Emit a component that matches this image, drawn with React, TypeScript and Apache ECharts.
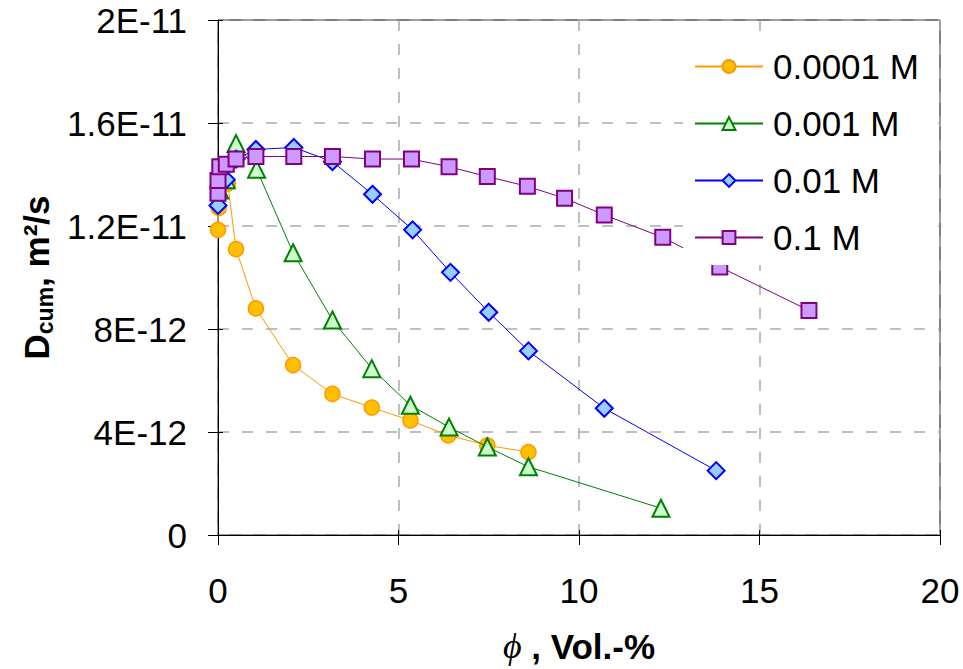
import React, { useEffect, useRef } from "react";
import * as echarts from "echarts";

// x: phi, Vol.-% ; y: D_cum in units of 1E-12 m²/s
const seriesNames = ["0.0001 M", "0.001 M", "0.01 M", "0.1 M"];

const x0001 = [0, 0.02, 0.27, 0.5, 1.05, 2.08, 3.17, 4.26, 5.33, 6.38, 7.46, 8.6];
const y0001 = [11.85, 12.7, 13.65, 11.1, 8.8, 6.6, 5.48, 4.95, 4.45, 3.87, 3.48, 3.22];

const x001 = [0.05, 0.23, 0.5, 1.07, 2.08, 3.17, 4.26, 5.33, 6.4, 7.46, 8.6, 12.27];
const y001 = [13.4, 13.8, 15.2, 14.2, 10.96, 8.35, 6.46, 5.04, 4.19, 3.42, 2.65, 1.04];

const x01 = [0, 0.23, 0.5, 1.05, 2.1, 3.17, 4.28, 5.39, 6.44, 7.5, 8.6, 10.7, 13.8];
const y01 = [12.8, 13.8, 14.6, 14.97, 15.05, 14.5, 13.23, 11.85, 10.2, 8.65, 7.15, 4.92, 2.5];

const x1 = [0, 0, 0.05, 0.23, 0.5, 1.05, 2.1, 3.17, 4.28, 5.36, 6.4, 7.46, 8.57, 9.6, 10.7, 12.32, 13.9, 16.37];
const y1 = [13.27, 13.77, 14.3, 14.4, 14.6, 14.7, 14.7, 14.7, 14.6, 14.6, 14.3, 13.92, 13.54, 13.08, 12.43, 11.56, 10.41, 8.72];

const xTicks = [0, 5, 10, 15, 20];
const yTickLabels = ["0", "4E-12", "8E-12", "1.2E-11", "1.6E-11", "2E-11"];

const FONT = "'Liberation Sans', Arial, sans-serif";

function pairs(xs: number[], ys: number[]) {
  return xs.map((x, i) => [x, ys[i]]);
}

export default function App() {
  const ref = useRef<HTMLDivElement>(null);
  useEffect(() => {
    if (!ref.current) return;
    const chart = echarts.init(ref.current, null, { renderer: "svg" });
    const styles = [
      { symbol: "circle", size: 15, line: "#FF9900", fill: "#FFC000", border: "#FF9900", bw: 1.5 },
      { symbol: "triangle", size: 17, line: "#008000", fill: "#CCFFCC", border: "#008000", bw: 2 },
      { symbol: "diamond", size: 17, line: "#0000FF", fill: "#99CCFF", border: "#0000FF", bw: 2 },
      { symbol: "rect", size: 15, line: "#800080", fill: "#CC99FF", border: "#800080", bw: 2 },
    ];
    const datas = [pairs(x0001, y0001), pairs(x001, y001), pairs(x01, y01), pairs(x1, y1)];
    const gridLine = { show: true, lineStyle: { color: "#ABABAB", type: [11, 13], width: 1.5 } };
    chart.setOption({
      animation: false,
      backgroundColor: "#ffffff",
      grid: {
        left: 218,
        top: 20,
        width: 722,
        height: 520,
        show: true,
        borderColor: "#000",
        borderWidth: 1,
        backgroundColor: "transparent",
      },
      legend: {
        orient: "vertical",
        left: 683,
        top: 36,
        padding: [13, 11, 10, 11],
        itemGap: 22,
        itemWidth: 68,
        itemHeight: 16,
        backgroundColor: "#ffffff",
        data: seriesNames,
        textStyle: {
          fontFamily: FONT,
          fontSize: 35,
          lineHeight: 35,
          color: "#000",
          padding: [0, 0, 0, 5],
        },
      },
      xAxis: [
        {
          type: "value",
          position: "bottom",
          min: 0,
          max: 20,
          interval: 5,
          axisLine: { onZero: false, lineStyle: { color: "#000", width: 1 } },
          axisTick: { show: true, length: 10, lineStyle: { color: "#000" } },
          axisLabel: {
            fontFamily: FONT,
            fontSize: 35,
            color: "#000",
            margin: 38,
            formatter: (v: number) => (xTicks.includes(v) ? String(v) : ""),
          },
          splitLine: gridLine,
          name: "{phi|ϕ}{t| , Vol.-%}",
          nameLocation: "middle",
          nameGap: 91,
          nameTextStyle: {
            rich: {
              phi: {
                fontFamily: "'Liberation Serif', 'DejaVu Serif', serif",
                fontStyle: "italic",
                fontSize: 36,
                lineHeight: 40,
                color: "#000",
              },
              t: {
                fontFamily: FONT,
                fontWeight: "bold",
                fontSize: 35,
                lineHeight: 40,
                color: "#000",
              },
            },
          },
        },
        {
          type: "value",
          position: "bottom",
          min: 0,
          max: 20,
          interval: 5,
          axisLine: { show: false, onZero: false },
          axisTick: { show: true, inside: true, length: 5, lineStyle: { color: "#000" } },
          axisLabel: { show: false },
          splitLine: { show: false },
        },
      ],
      yAxis: [
        {
          type: "value",
          position: "left",
          min: 0,
          max: 20,
          interval: 4,
          axisLine: { show: true, lineStyle: { color: "#000", width: 1 } },
          axisTick: { show: true, length: 10, lineStyle: { color: "#000" } },
          axisLabel: {
            fontFamily: FONT,
            fontSize: 35,
            color: "#000",
            margin: 31,
            formatter: (v: number) => yTickLabels[Math.round(v / 4)] ?? "",
          },
          splitLine: gridLine,
          name: "{d|D}{sub|cum}{t|, m²/s}",
          nameLocation: "middle",
          nameGap: 158,
          nameTextStyle: {
            rich: {
              d: {
                fontFamily: FONT,
                fontWeight: "bold",
                fontSize: 35,
                lineHeight: 40,
                color: "#000",
              },
              sub: {
                fontFamily: FONT,
                fontWeight: "bold",
                fontSize: 23,
                lineHeight: 40,
                verticalAlign: "bottom",
                color: "#000",
              },
              t: {
                fontFamily: FONT,
                fontWeight: "bold",
                fontSize: 35,
                lineHeight: 40,
                color: "#000",
              },
            },
          },
        },
        {
          type: "value",
          position: "left",
          min: 0,
          max: 20,
          interval: 4,
          axisLine: { show: false, onZero: false },
          axisTick: { show: true, inside: true, length: 5, lineStyle: { color: "#000" } },
          axisLabel: { show: false },
          splitLine: { show: false },
        },
      ],
      series: seriesNames.map((name, i) => ({
        name,
        type: "line",
        xAxisIndex: 0,
        yAxisIndex: 0,
        data: datas[i],
        symbol: styles[i].symbol,
        symbolSize: styles[i].size,
        showAllSymbol: true,
        lineStyle: { color: styles[i].line, width: 1 },
        itemStyle: {
          color: styles[i].fill,
          borderColor: styles[i].border,
          borderWidth: styles[i].bw,
        },
        emphasis: { disabled: true },
        z: 2 + i * 0.1,
      })),
    });
    return () => chart.dispose();
  }, []);
  return <div ref={ref} style={{ width: 963, height: 669, position: "absolute", left: 0, top: 0 }} />;
}
